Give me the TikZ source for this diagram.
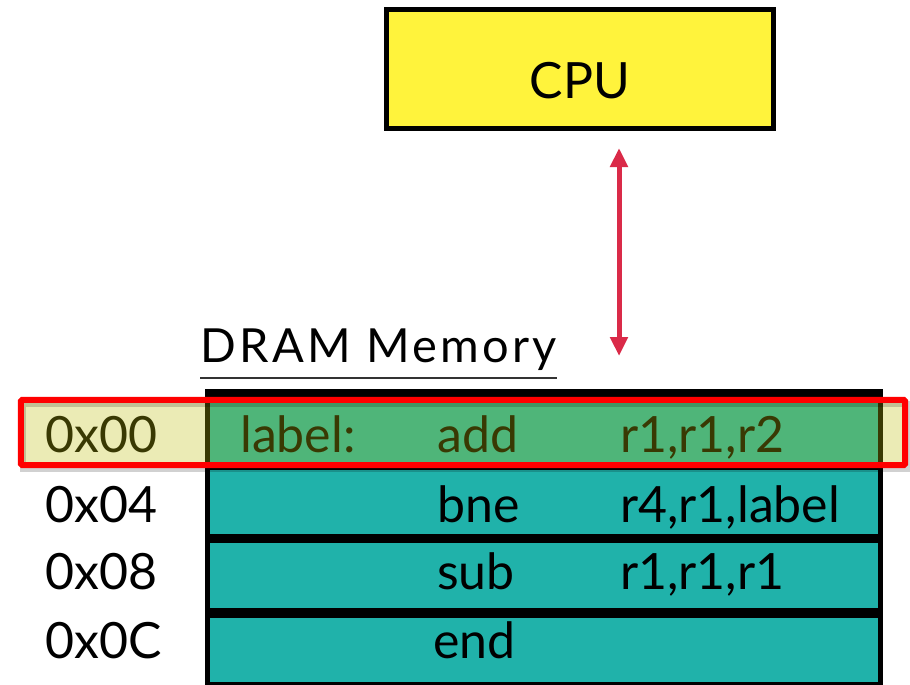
\documentclass[tikz,border=0pt]{standalone}
\usepackage{fontspec}
\setmainfont{Lato}
\usetikzlibrary{arrows.meta}
\definecolor{cpuyellow}{RGB}{255,243,60}
\definecolor{pickyellow}{RGB}{190,190,10}
\definecolor{memteal}{RGB}{32,178,170}
\definecolor{buscrimson}{RGB}{218,42,72}
\begin{document}
\begin{tikzpicture}[x=1pt, y=-1pt,
        basic/.style = {inner sep=0pt, font=\fontsize{50}{56}\selectfont},
        unit/.style = {basic, draw=black, line width=5pt, fill=cpuyellow,
            minimum width=387pt, minimum height=119pt, text height=60pt, text depth=0pt},
        cell/.style = {fill=memteal, inner sep=0pt, minimum width=668pt, anchor=north west},
        word/.style = {basic, anchor=base west},
        bus/.style = {draw=buscrimson, line width=5pt,
            {Triangle[width=17pt,length=19pt]}-{Triangle[width=17pt,length=19pt]}},
        pick/.style = {fill=pickyellow, fill opacity=0.3, inner sep=0pt,
            minimum width=884pt, minimum height=65pt},
        frame/.style = {draw=red, line width=6pt, rounded corners=1.5pt}]
    \useasboundingbox (0,0) rectangle (910,685);
    % processor
    \node[unit] (cpu) at (580,69) {CPU};
    \coordinate (bustop) at (619,148);
    \coordinate (busbot) at (619,356);
    \draw[bus] (bustop) -- (busbot);
    % memory
    \node[word, font=\fontsize{47}{52}\selectfont\addfontfeature{LetterSpace=7}] (title) at (200,362) {DRAM Memory};
    \draw[line width=2pt, black!80] ([yshift=-16pt]title.base west) -- ([yshift=-16pt]title.base east);
    \node[fill=black, inner sep=0pt, minimum width=678pt, minimum height=300pt,
        anchor=north west] (mem) at (205,389) {};
    \node[cell, minimum height=65pt] (row0) at (210,400) {};
    \node[cell, minimum height=64pt] (row1) at (210,470) {};
    \node[cell, minimum height=65pt] (row2) at (210,543) {};
    \node[cell, minimum height=64pt] (row3) at (210,618) {};
    % addresses
    \node[word] (adr0) at (45,452) {0x00};
    \node[word] (adr1) at (45,522) {0x04};
    \node[word] (adr2) at (45,589) {0x08};
    \node[word] (adr3) at (45,658) {0x0C};
    % instructions
    \node[word] (lbl0) at (240,452) {label:};
    \node[word] (op0) at (437,452) {add};
    \node[word] (arg0) at (620,452) {r1,r1,r2};
    \node[word] (op1) at (437,522) {bne};
    \node[word] (arg1) at (620,522) {r4,r1,label};
    \node[word] (op2) at (437,589) {sub};
    \node[word] (arg2) at (620,589) {r1,r1,r1};
    \node[word] (op3) at (433,658) {end};
    % highlighted word
    \node[pick] (hl) at (463,432.5) {};
    \draw[black, opacity=0.18, line width=6pt] ([xshift=2pt,yshift=-4pt]hl.north west) rectangle ([xshift=2pt,yshift=-4pt]hl.south east);
    \draw[frame] (hl.north west) rectangle (hl.south east);
\end{tikzpicture}
\end{document}
